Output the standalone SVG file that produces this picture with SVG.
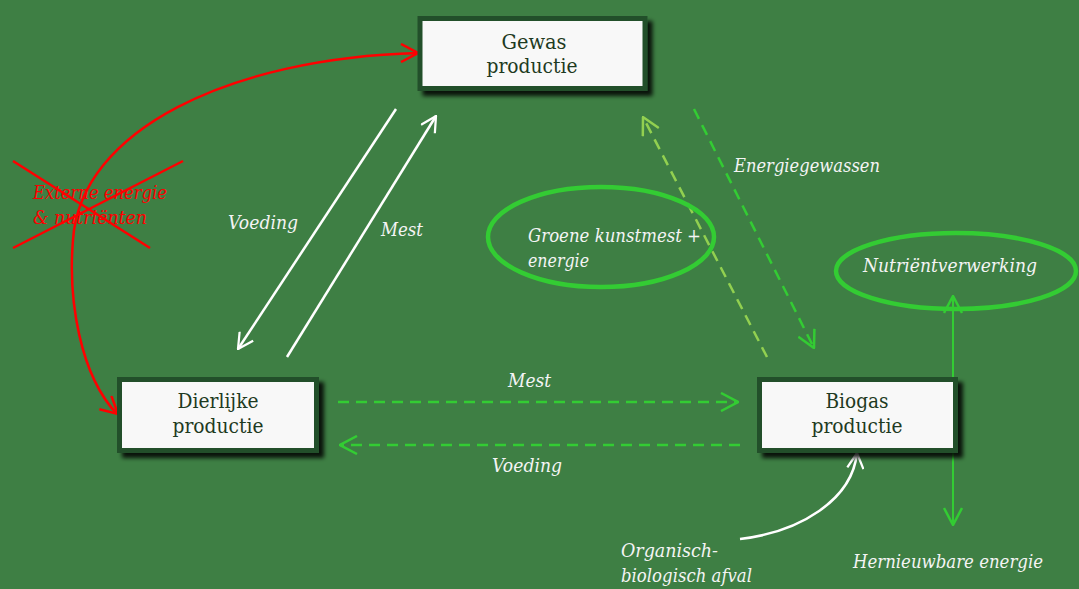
<svg xmlns="http://www.w3.org/2000/svg" width="1079" height="589" viewBox="0 0 1079 589">
<style>
text{font-family:'DejaVu Serif',serif}
.box{fill:#f8f8f8;stroke:#22502a;stroke-width:5;filter:url(#sh)}
.nt{font-size:20px;fill:#1e3a22;text-anchor:middle}
.lb{font-style:italic;font-size:18px;fill:#f4f4f4}
.red{font-style:italic;font-size:18px;fill:#ff0000}
.dg{fill:none;stroke:#33cc33;stroke-width:2.5;stroke-dasharray:11 7}
.dl{fill:none;stroke:#92d050;stroke-width:2.5;stroke-dasharray:11 7}
.wl{fill:none;stroke:#ffffff;stroke-width:2.5}
.el{fill:none;stroke:#33cc33;stroke-width:4.5}
</style>
<defs>
<filter id="sh" x="-10%" y="-20%" width="130%" height="150%">
<feDropShadow dx="5" dy="5" stdDeviation="2" flood-color="#000" flood-opacity="0.85"/>
</filter>
<marker id="aw" viewBox="0 0 20 20" refX="19" refY="10" markerWidth="18" markerHeight="18" markerUnits="userSpaceOnUse" orient="auto">
<path d="M2,1 L19,10 L2,19" fill="none" stroke="#ffffff" stroke-width="2.5" stroke-dasharray="none"/>
</marker>
<marker id="ar" viewBox="0 0 20 20" refX="19" refY="10" markerWidth="20" markerHeight="20" markerUnits="userSpaceOnUse" orient="auto">
<path d="M2,1 L19,10 L2,19" fill="none" stroke="#ff0000" stroke-width="2.5" stroke-dasharray="none"/>
</marker>
<marker id="ag" viewBox="0 0 20 20" refX="19" refY="10" markerWidth="20" markerHeight="20" markerUnits="userSpaceOnUse" orient="auto">
<path d="M2,1 L19,10 L2,19" fill="none" stroke="#33cc33" stroke-width="2.5" stroke-dasharray="none"/>
</marker>
<marker id="al" viewBox="0 0 20 20" refX="19" refY="10" markerWidth="20" markerHeight="20" markerUnits="userSpaceOnUse" orient="auto">
<path d="M2,1 L19,10 L2,19" fill="none" stroke="#92d050" stroke-width="2.5" stroke-dasharray="none"/>
</marker>
</defs>
<rect x="0" y="0" width="1079" height="589" fill="#3e7f44"/>

<g id="connectors">
<path class="wl" d="M396,109 L238,349" marker-end="url(#aw)"/>
<path class="wl" d="M287,357 L436,116" marker-end="url(#aw)"/>
<path d="M418,53 C230,58 80,130 73,240 C68,300 80,375 117,414" fill="none" stroke="#ff0000" stroke-width="2.5"/>
<path d="M60,53 L418,53" fill="none" stroke="none" marker-end="url(#ar)"/>
<path d="M98,396 L118,414" fill="none" stroke="none" marker-end="url(#ar)"/>
<path class="dg" d="M338,402 L738,402" marker-end="url(#ag)"/>
<path class="dg" d="M740,445 L340,445" marker-end="url(#ag)"/>
<path class="dl" d="M767,357 L643,117" marker-end="url(#al)"/>
<path class="dg" d="M694,109 L814,348" marker-end="url(#ag)"/>
<path d="M953,380 L953,296" fill="none" stroke="#33cc33" stroke-width="2" marker-end="url(#ag)"/>
<path d="M953,380 L953,525" fill="none" stroke="#33cc33" stroke-width="2" marker-end="url(#ag)"/>
<path class="wl" d="M740,539 C800,532 852,500 857,453" marker-end="url(#aw)"/>
</g>

<g id="cross">
<line x1="13" y1="161" x2="150" y2="248" stroke="#ff0000" stroke-width="2.5"/>
<line x1="183" y1="161" x2="13" y2="248" stroke="#ff0000" stroke-width="2.5"/>
<text class="red" x="33" y="199" textLength="134" lengthAdjust="spacingAndGlyphs">Externe energie</text>
<text class="red" x="33" y="224" textLength="114" lengthAdjust="spacingAndGlyphs">&amp; nutriënten</text>
</g>

<g id="gewas">
<rect class="box" x="420" y="18.5" width="225" height="70"/>
<text class="nt" x="534" y="49" textLength="65" lengthAdjust="spacingAndGlyphs">Gewas</text>
<text class="nt" x="532" y="73" textLength="91" lengthAdjust="spacingAndGlyphs">productie</text>
</g>
<g id="dierlijke">
<rect class="box" x="119.5" y="379.5" width="197" height="71"/>
<text class="nt" x="218" y="408" textLength="81" lengthAdjust="spacingAndGlyphs">Dierlijke</text>
<text class="nt" x="218" y="433" textLength="91" lengthAdjust="spacingAndGlyphs">productie</text>
</g>
<g id="biogas">
<rect class="box" x="759.5" y="379.5" width="196" height="71"/>
<text class="nt" x="857" y="408" textLength="63" lengthAdjust="spacingAndGlyphs">Biogas</text>
<text class="nt" x="857" y="433" textLength="91" lengthAdjust="spacingAndGlyphs">productie</text>
</g>

<g id="groene">
<ellipse class="el" cx="601" cy="237" rx="113" ry="50"/>
<text class="lb" x="528" y="242" textLength="173" lengthAdjust="spacingAndGlyphs">Groene kunstmest +</text>
<text class="lb" x="528" y="267" textLength="61" lengthAdjust="spacingAndGlyphs">energie</text>
</g>
<g id="nutrient">
<ellipse class="el" cx="956" cy="271" rx="120" ry="38"/>
<text class="lb" x="863" y="272" textLength="174" lengthAdjust="spacingAndGlyphs">Nutriëntverwerking</text>
</g>

<g id="labels">
<text class="lb" x="228" y="229" textLength="70" lengthAdjust="spacingAndGlyphs">Voeding</text>
<text class="lb" x="381" y="236" textLength="42" lengthAdjust="spacingAndGlyphs">Mest</text>
<text class="lb" x="734" y="172" textLength="146" lengthAdjust="spacingAndGlyphs">Energiegewassen</text>
<text class="lb" x="508" y="387" textLength="43" lengthAdjust="spacingAndGlyphs">Mest</text>
<text class="lb" x="492" y="472" textLength="70" lengthAdjust="spacingAndGlyphs">Voeding</text>
<text class="lb" x="621" y="557" textLength="97" lengthAdjust="spacingAndGlyphs">Organisch-</text>
<text class="lb" x="621" y="582" textLength="131" lengthAdjust="spacingAndGlyphs">biologisch afval</text>
<text class="lb" x="853" y="568" textLength="190" lengthAdjust="spacingAndGlyphs">Hernieuwbare energie</text>
</g>
</svg>
